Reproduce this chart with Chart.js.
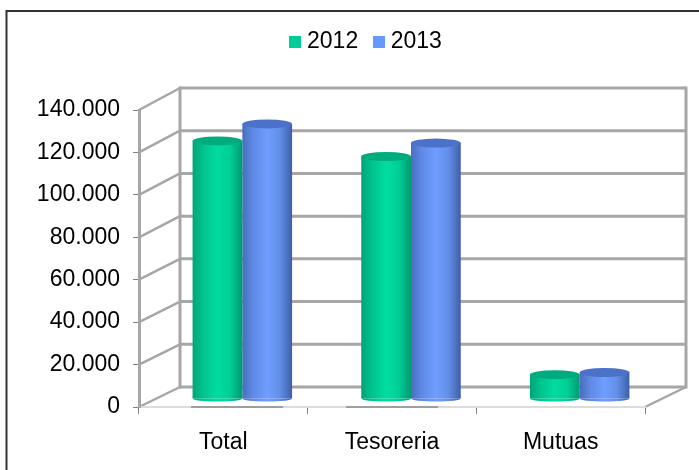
<!DOCTYPE html>
<html><head><meta charset="utf-8">
<style>html,body{margin:0;padding:0;background:#fff;overflow:hidden}#w{position:absolute;left:0;top:0;width:699px;height:470px}canvas{filter:blur(0.45px)}</style>
<script src="https://cdn.jsdelivr.net/npm/chart.js@4/dist/chart.umd.min.js"></script>
</head><body><div id="w"><canvas id="c" width="699" height="470"></canvas></div>
<script>
const categories = ['Total', 'Tesoreria', 'Mutuas'];
const values2012 = [120300, 113000, 10500];
const values2013 = [128300, 119300, 11500];
const seriesNames = ['2012', '2013'];
const yTickLabels = {0:'0',20000:'20.000',40000:'40.000',60000:'60.000',80000:'80.000',100000:'100.000',120000:'120.000',140000:'140.000'};

const FONT = {family:'"Liberation Sans", Arial, sans-serif', size:23};
const GRID = '#a6a6a6';
const DEPTH_X = 41, BAR_DX = 19;
const stops = [
  ['#00a578','#00c48e','#00dca0','#00cf95','#009a70'],
  ['#4a6dbd','#5f8ae6','#6f9eff','#628fe8','#3f5fa8']
];
const capColor = ['#00ab7d','#4b72c8'];
const legendColor = ['#00cc96','#6699ff'];
const axisSegments = [[191,283],[346,438]];

function swatch(col){const c=document.createElement('canvas');c.width=12;c.height=12;const g=c.getContext('2d');g.fillStyle=col;g.fillRect(0,0,12,12);return c;}
const swatches = legendColor.map(swatch);

function barRange(chart, ds, i){
  const xs = chart.scales.x, cw = xs.width/categories.length, w = cw*0.59/2;
  const c = xs.getPixelForValue(i), l = c + (ds-1)*w;
  return {l, r:l+w, w};
}
function barFill(ctx){
  const ds = ctx.datasetIndex||0;
  if(ctx.type!=='data' || !ctx.chart.scales.x) return capColor[ds];
  const {l,r} = barRange(ctx.chart, ds, ctx.dataIndex);
  if(!Number.isFinite(l) || !Number.isFinite(r)) return capColor[ds];
  return cylinder(ctx.chart.ctx, l, r, ds);
}
function cylinder(g,l,r,ds){
  const gr = g.createLinearGradient(l,0,r,0);
  [0,.22,.5,.75,1].forEach((p,k)=>gr.addColorStop(p,stops[ds][k]));
  return gr;
}
const walls = {
  id:'walls',
  beforeDraw(chart){
    const g = chart.ctx, xs = chart.scales.x, ys = chart.scales.y;
    g.save();
    g.fillStyle='#fff'; g.fillRect(0,0,699,470);
    g.strokeStyle='#333'; g.lineWidth=2;
    g.beginPath(); g.moveTo(6.5,470); g.lineTo(6.5,11); g.lineTo(699,11); g.stroke();
    const L = xs.left, R = xs.right, bot = ys.getPixelForValue(0), top = ys.getPixelForValue(140000);
    const back = y => y - 20 - 2*(bot-y)/(bot-top);
    g.strokeStyle=GRID; g.lineWidth=3;
    Object.keys(yTickLabels).forEach(v=>{
      const y = ys.getPixelForValue(+v);
      g.beginPath(); g.moveTo(L+DEPTH_X,back(y)); g.lineTo(R+DEPTH_X,back(y)); g.stroke();
      g.lineWidth=2.5;
      g.beginPath(); g.moveTo(L,y); g.lineTo(L+DEPTH_X,back(y)); g.stroke();
      g.lineWidth=3;
    });
    g.beginPath(); g.moveTo(L+DEPTH_X,back(top)-1.5); g.lineTo(L+DEPTH_X,back(bot)+1.5); g.stroke();
    g.beginPath(); g.moveTo(R+DEPTH_X,back(top)-1.5); g.lineTo(R+DEPTH_X,back(bot)+1.5); g.stroke();
    g.lineWidth=2.5;
    g.beginPath(); g.moveTo(R,bot); g.lineTo(R+DEPTH_X,back(bot)); g.stroke();
    g.restore();
  },
  afterLayout(chart){
    const lg = chart.legend;
    lg.top = 10; lg.left += 45.7; lg.right += 45.7;
  },
  beforeDatasetsDraw(chart){
    const g = chart.ctx, ys = chart.scales.y, b = ys.getPixelForValue(0);
    g.save();
    g.translate(BAR_DX, b-10);
    g.scale(1,299/298);
    g.translate(0,-b);
  },
  afterDatasetDraw(chart,args){
    const g = chart.ctx, ds = args.index, meta = chart.getDatasetMeta(ds);
    meta.data.forEach((el,i)=>{
      const {l,r,w} = barRange(chart,ds,i), cx=(l+r)/2;
      g.fillStyle = cylinder(g,l,r,ds);
      g.fillRect(l,el.base-0.5,w,2.5);
      g.beginPath(); g.ellipse(cx,el.base+2,w/2,3,0,0,Math.PI); g.fill();
      g.fillStyle = capColor[ds];
      g.beginPath(); g.ellipse(cx,el.y,w/2,4.5,0,0,Math.PI*2); g.fill();
    });
  },
  afterDatasetsDraw(chart){ chart.ctx.restore(); },
  afterDraw(chart){
    const g = chart.ctx, bot = chart.scales.y.getPixelForValue(0);
    g.save();
    g.strokeStyle='#8a8a8a'; g.lineWidth=1.5;
    axisSegments.forEach(([a,b])=>{ g.beginPath(); g.moveTo(a,bot); g.lineTo(b,bot); g.stroke(); });
    g.restore();
  }
};

new Chart(document.getElementById('c'),{
  type:'bar',
  data:{labels:categories,datasets:[
    {label:seriesNames[0],data:values2012,backgroundColor:barFill,pointStyle:swatches[0],categoryPercentage:.59,barPercentage:1,clip:false},
    {label:seriesNames[1],data:values2013,backgroundColor:barFill,pointStyle:swatches[1],categoryPercentage:.59,barPercentage:1,clip:false}
  ]},
  plugins:[walls],
  options:{
    responsive:false,animation:false,
    layout:{padding:{left:0,right:54,top:57,bottom:0}},
    plugins:{
      tooltip:{enabled:false},
      legend:{display:true,position:'top',labels:{usePointStyle:true,pointStyleWidth:1,boxHeight:12,padding:20,color:'#000',font:FONT}}
    },
    scales:{
      x:{afterFit:s=>{s.height=63;},
         grid:{drawOnChartArea:false,drawTicks:true,tickLength:7,color:'#808080',lineWidth:1},
         border:{display:true,color:'#dcdcdc',width:2},
         ticks:{color:'#000',font:FONT,padding:15,maxRotation:0}},
      y:{min:0,max:140000,afterFit:s=>{s.width=139;},
         grid:{drawOnChartArea:false,drawTicks:true,tickLength:6,color:'#808080',lineWidth:1},
         border:{display:true,color:GRID,width:3},
         ticks:{stepSize:20000,color:'#000',font:FONT,padding:13,callback:v=>yTickLabels[v]}}
    }
  }
});
</script></body></html>
